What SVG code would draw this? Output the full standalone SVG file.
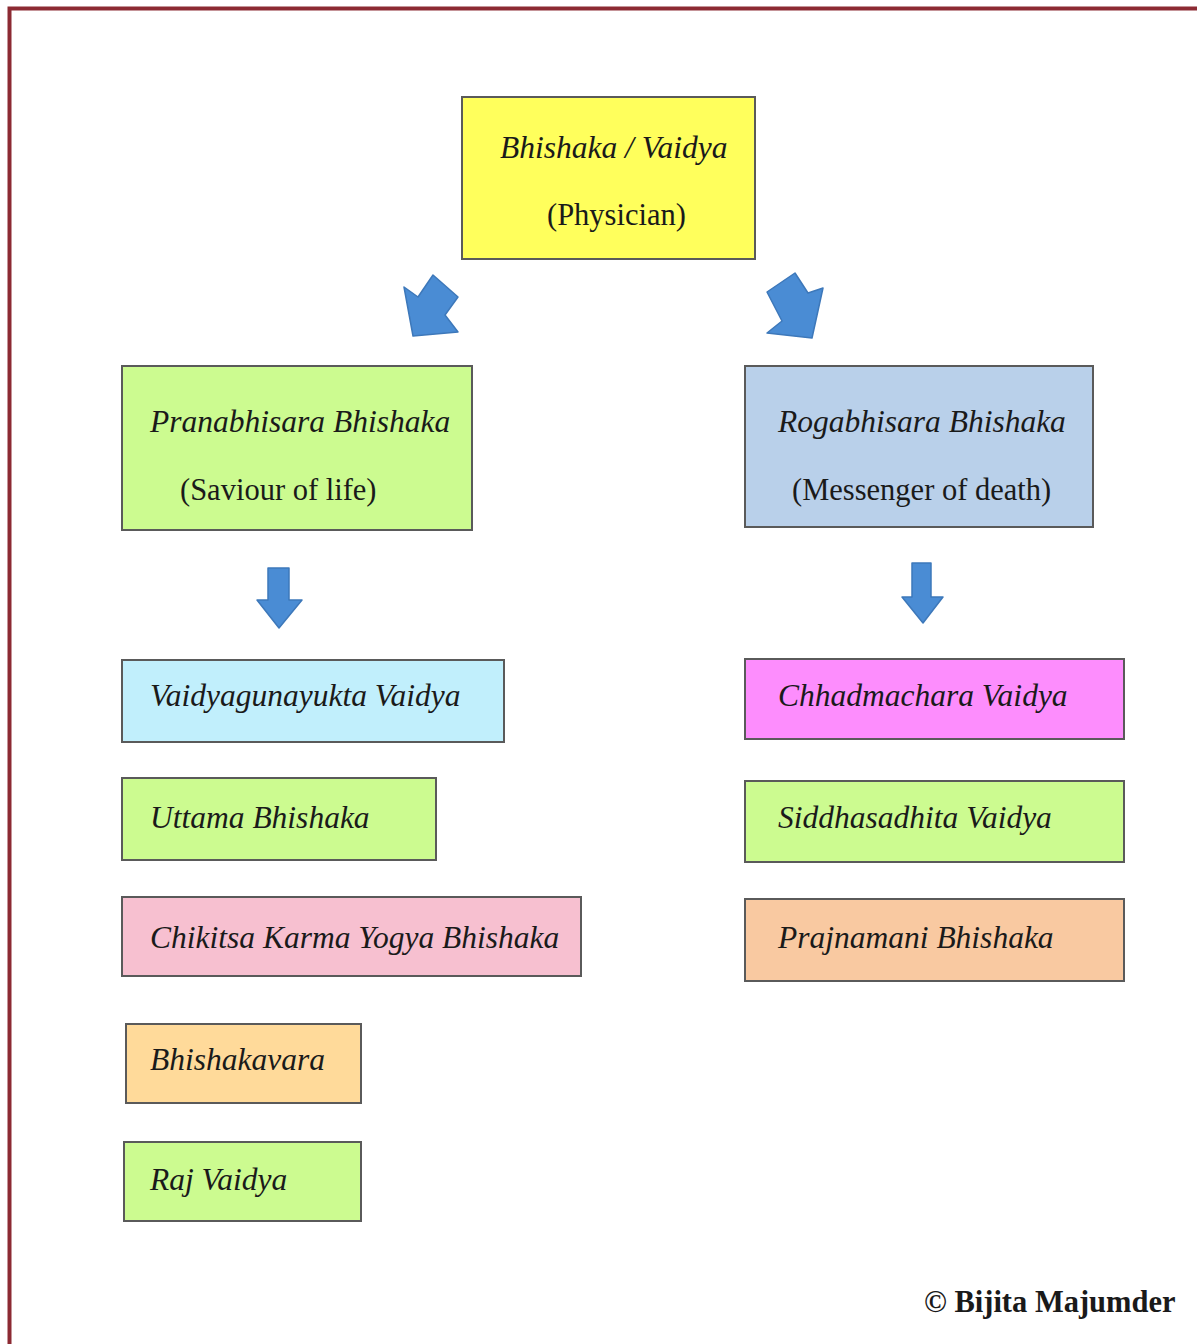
<svg xmlns="http://www.w3.org/2000/svg" width="1197" height="1344" viewBox="0 0 1197 1344">
<style>
.box{stroke:#5a5a5a;stroke-width:2}
.t{font-family:"Liberation Serif","Times New Roman",serif;font-style:italic;font-size:31.5px;fill:#1a1a1a}
.s{font-family:"Liberation Serif","Times New Roman",serif;font-size:30.5px;fill:#1a1a1a}
.arr{fill:#4a8cd4;stroke:#3d78ba;stroke-width:1.5;stroke-linejoin:round}
</style>
<rect width="1197" height="1344" fill="#ffffff"/>
<path d="M9.5 1344 V8.5 H1197" fill="none" stroke="#8c2a33" stroke-width="4"/>
<g id="n-root"><rect class="box" x="462" y="97" width="293" height="162" fill="#ffff5c"/>
<text class="t" x="500" y="158">Bhishaka / Vaidya</text><text class="s" x="547" y="225">(Physician)</text></g>
<g id="n-pran"><rect class="box" x="122" y="366" width="350" height="164" fill="#ccfb90"/>
<text class="t" x="150" y="432">Pranabhisara Bhishaka</text><text class="s" x="180" y="500">(Saviour of life)</text></g>
<g id="n-roga"><rect class="box" x="745" y="366" width="348" height="161" fill="#b9d0ea"/>
<text class="t" x="778" y="432">Rogabhisara Bhishaka</text><text class="s" x="792" y="500">(Messenger of death)</text></g>
<g id="n-vaidyaguna"><rect class="box" x="122" y="660" width="382" height="82" fill="#c1effc"/><text class="t" x="150" y="706">Vaidyagunayukta Vaidya</text></g>
<g id="n-uttama"><rect class="box" x="122" y="778" width="314" height="82" fill="#ccfb90"/><text class="t" x="150" y="828">Uttama Bhishaka</text></g>
<g id="n-chikitsa"><rect class="box" x="122" y="897" width="459" height="79" fill="#f7c0d0"/><text class="t" x="150" y="948">Chikitsa Karma Yogya Bhishaka</text></g>
<g id="n-bhishakavara"><rect class="box" x="126" y="1024" width="235" height="79" fill="#ffda9a"/><text class="t" x="150" y="1070">Bhishakavara</text></g>
<g id="n-raj"><rect class="box" x="124" y="1142" width="237" height="79" fill="#ccfb90"/><text class="t" x="150" y="1190">Raj Vaidya</text></g>
<g id="n-chhadma"><rect class="box" x="745" y="659" width="379" height="80" fill="#fd8dfd"/><text class="t" x="778" y="706">Chhadmachara Vaidya</text></g>
<g id="n-siddha"><rect class="box" x="745" y="781" width="379" height="81" fill="#ccfb90"/><text class="t" x="778" y="828">Siddhasadhita Vaidya</text></g>
<g id="n-prajna"><rect class="box" x="745" y="899" width="379" height="82" fill="#f9c9a1"/><text class="t" x="778" y="948">Prajnamani Bhishaka</text></g>
<g id="connectors">
<polygon class="arr" points="404,287 418,297 433,275 458,297 445,315 458,332 413,336"/>
<polygon class="arr" points="767,292 795,273 808,293 823,288 812,338 767,333 782,321"/>
<polygon class="arr" points="268,568 289,568 289,600 302,600 279,628 257,600 268,600"/>
<polygon class="arr" points="912,563 931,563 931,597 943,597 923,623 902,597 912,597"/>
</g>
<text x="924" y="1312" font-family="Liberation Serif,serif" font-weight="bold" font-size="30.5" fill="#1a1a1a">© Bijita Majumder</text>
</svg>
